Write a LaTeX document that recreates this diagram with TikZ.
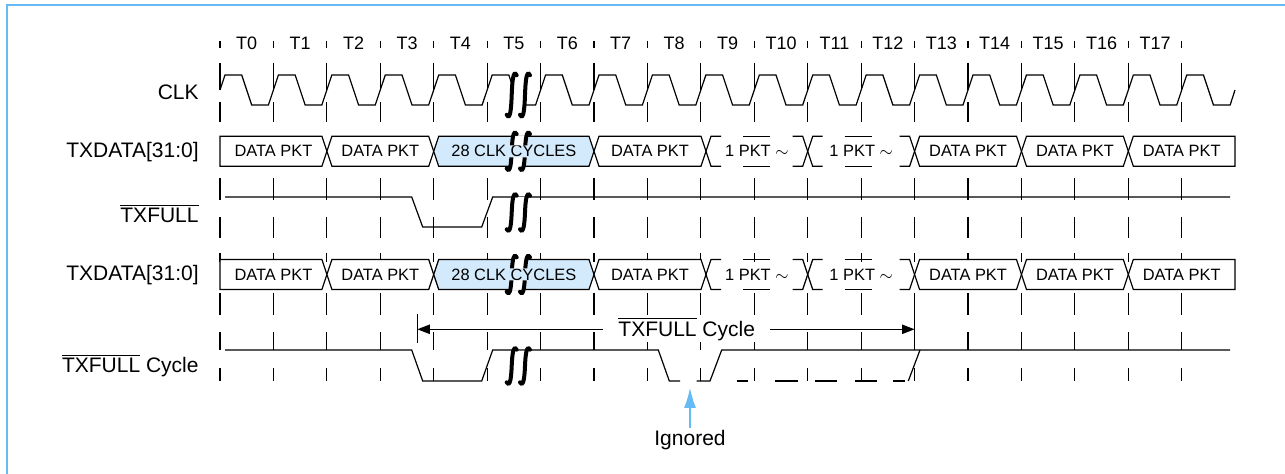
\documentclass[tikz,border=0pt]{standalone}
\usepackage{fontspec}
\setmainfont{Liberation Sans}
\usetikzlibrary{arrows.meta}
\definecolor{TimeBlue}{HTML}{66BBF5}
\definecolor{TimePale}{HTML}{D2EAFB}
\tikzset{
  sig/.style={line width=0.6pt, draw=black},
  gridtick/.style={line width=0.55pt, draw=black},
  pktbox/.style={sig, fill=white},
  pktblue/.style={sig, fill=TimePale},
  pkttext/.style={font=\fontsize{8.2}{10}\selectfont, inner sep=0pt},
  siglabel/.style={font=\fontsize{10.5}{12}\selectfont, anchor=base east, inner sep=0pt},
  tlabel/.style={font=\fontsize{9}{11}\selectfont, inner sep=0pt},
  cyctext/.style={font=\fontsize{10.5}{12}\selectfont, fill=white, inner xsep=7.5pt, inner ysep=1pt},
  ignlabel/.style={font=\fontsize{10.5}{12}\selectfont, inner sep=1pt},
  breakline/.style={line width=2pt, draw=black, line cap=round},
  cycarrow/.style={sig, -{Triangle[length=6.3pt,width=4.7pt]}},
  ignarrow/.style={line width=0.6pt, draw=TimeBlue, -{Latex[length=10pt,width=6pt]}},
  frameline/.style={line width=1pt, draw=TimeBlue},
}
\newcommand{\lowbar}[1]{$\overline{\mbox{#1}}$}
\newcommand{\pkt}[8]{%
  \draw[#6] (#1,#5) -- ({#1+#3},{#5-15}) -- ({#2-#4},{#5-15}) -- (#2,#5) -- ({#2-#4},{#5+15}) -- ({#1+#3},{#5+15}) -- cycle;
  \node[pkttext] (#7) at ({(#1+#2)/2},#5) {#8};}
\newcommand{\gappkt}[5]{%
  \draw[sig] ({#1+15},{#3-15}) -- ({#1+5},{#3-15}) -- (#1,#3) -- ({#1+5},{#3+15}) -- ({#1+15},{#3+15});
  \draw[sig] ({#2-15},{#3-15}) -- ({#2-5},{#3-15}) -- (#2,#3) -- ({#2-5},{#3+15}) -- ({#2-15},{#3+15});
  \draw[sig] ({#1+37},{#3-15}) -- ({#1+64},{#3-15}) ({#1+37},{#3+15}) -- ({#1+64},{#3+15});
  \node[pkttext] (#4) at ({(#1+#2)/2},#3) {#5};}
\newcommand{\wavebreak}[3]{%
  \begin{scope}[shift={(#1,#2)}]
    \fill[white] (0,{0.1*#3}) .. controls (0,{0.2*#3}) .. (0,{0.5*#3}) -- (0,{0.9*#3}) -- (13.3,{0.9*#3}) -- (13.3,{0.1*#3}) -- cycle;
    \foreach \dx in {0,13.3}
      \draw[breakline] ({\dx+5},{0.07*#3}) .. controls ({\dx+1.5},{-0.06*#3}) and ({\dx+0.5},{0.2*#3}) .. (\dx,{0.5*#3})
        .. controls ({\dx-0.5},{0.8*#3}) and ({\dx-1.5},{1.06*#3}) .. ({\dx-5},{0.93*#3});
  \end{scope}}
\newcommand{\pktbreak}[2]{%
  \begin{scope}
    \clip ({#1-12},{#2-21}) rectangle ({#1+26},{#2-6}) ({#1-12},{#2+6}) rectangle ({#1+26},{#2+21});
    \wavebreak{#1}{{#2-20}}{40}
  \end{scope}}

\begin{document}
\begin{tikzpicture}[x=0.5pt,y=-0.5pt]
  \useasboundingbox (0,0) rectangle (1285,474);
  \draw[frameline] (7.3,474) -- (7.3,5) -- (1285,5);
  \foreach \i [evaluate=\i as \t using 220+\i*53.43] in {0,...,18}
    \draw[gridtick] (\t,41) -- (\t,48) (\t,63) -- (\t,90) (\t,102) -- (\t,122)
      (\t,178) -- (\t,200) (\t,217) -- (\t,238) (\t,253) -- (\t,262)
      (\t,293) -- (\t,315) (\t,332) -- (\t,350) (\t,368) -- (\t,381);
  \foreach \i [evaluate=\i as \t using 220+(\i+0.5)*53.43] in {0,...,17}
    \node[tlabel] (t\i) at (\t,43.5) {T\i};
  \draw[sig] (220,90)
    \foreach \i [evaluate=\i as \t using 220+\i*53.43] in {0,...,18} {
      -- (\t+5,75) -- (\t+21.7,75) -- (\t+31.7,105) -- (\t+48.4,105)
    } -- (1235,90);
  \draw[sig] (225,197) -- (411.7,197) -- (422.7,227) -- (481.7,227) -- (492.7,197) -- (1230,197);
  \draw[sig] (225,350) -- (411.7,350) -- (422.7,381) -- (481.7,381) -- (492.7,350) -- (658.3,350) -- (669.3,381) -- (680,381);
  \draw[sig] (696.7,381) -- (710,381) -- (721.7,350) -- (1230,350);
  \foreach \a/\b in {736.7/748.3,775/798.3,815/836.7,855/876.7,893.3/905}
    \draw[sig] (\a,381) -- (\b,381);
  \draw[sig] (908.3,381) -- (920,350);
  \foreach \m/\r in {151.3/a,274.5/b} {
    \pkt{220}{326.9}{0}{5}{\m}{pktbox}{\r1}{DATA PKT}
    \pkt{326.9}{433.7}{5}{5}{\m}{pktbox}{\r2}{DATA PKT}
    \pkt{433.7}{594}{5}{5}{\m}{pktblue}{\r3}{28 CLK CYCLES}
    \pkt{594}{706}{5}{5}{\m}{pktbox}{\r4}{DATA PKT}
    \gappkt{706}{807.7}{\m}{\r5}{1 PKT $\sim$}
    \gappkt{807.7}{914.6}{\m}{\r6}{1 PKT $\sim$}
    \pkt{914.6}{1021.5}{5}{5}{\m}{pktbox}{\r7}{DATA PKT}
    \pkt{1021.5}{1128.3}{5}{5}{\m}{pktbox}{\r8}{DATA PKT}
    \pkt{1128.3}{1235}{5}{0}{\m}{pktbox}{\r9}{DATA PKT}
    \pktbreak{511.7}{\m}
  }
  \wavebreak{511.7}{72}{46}
  \wavebreak{511.7}{193}{39}
  \wavebreak{511.7}{347}{38}
  \node[siglabel] (lclk) at (199,99.3) {CLK};
  \node[siglabel] (ldata) at (199,157.7) {TXDATA[31:0]};
  \node[siglabel] (lfull) at (199,222.3) {\lowbar{TXFULL}};
  \node[siglabel] (ldatb) at (199,280.7) {TXDATA[31:0]};
  \node[siglabel] (lcyc) at (199,372.7) {\lowbar{TXFULL} Cycle};
  \coordinate (cycl) at (417.3,329.3);
  \coordinate (cycr) at (914.6,329.3);
  \draw[sig] (417.3,314) -- (417.3,343);
  \draw[sig] (914.6,293) -- (914.6,350);
  \node[cyctext] (cyc) at (686.7,329) {\lowbar{TXFULL} Cycle};
  \draw[cycarrow] (cyc.west |- cycl) -- (cycl);
  \draw[cycarrow] (cyc.east |- cycr) -- (cycr);
  \node[ignlabel] (ign) at (690,440) {Ignored};
  \coordinate (igntip) at (690,388);
  \draw[ignarrow] (ign) -- (igntip);
\end{tikzpicture}
\end{document}
